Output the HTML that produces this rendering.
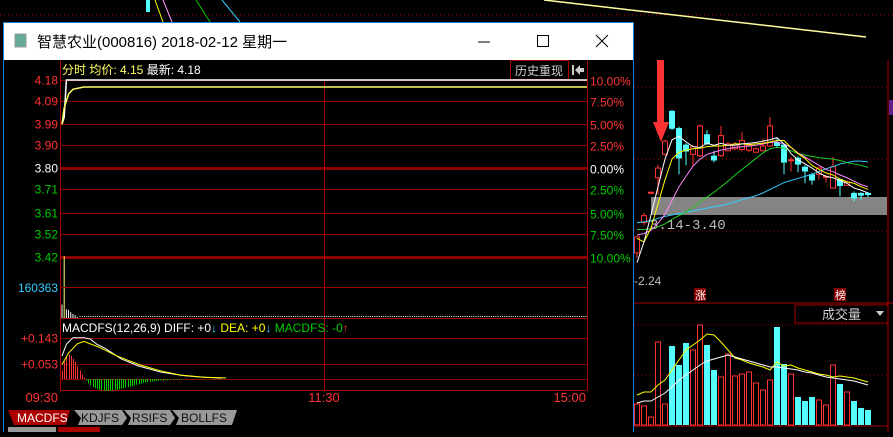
<!DOCTYPE html>
<html><head><meta charset="utf-8"><style>
html,body{margin:0;padding:0;background:#000;}
body{width:893px;height:432px;overflow:hidden;position:relative;font-family:"Liberation Sans","Noto Sans CJK SC",sans-serif;}
svg text{font-family:"Liberation Sans","Noto Sans CJK SC",sans-serif;}
svg text.mono{font-family:"Liberation Mono",monospace;}
</style></head><body>
<svg id="root" width="893" height="432" viewBox="0 0 893 432" xmlns="http://www.w3.org/2000/svg">
  <rect x="0" y="0" width="893" height="432" fill="#000"/>
  <line x1="0" y1="15" x2="893" y2="15" stroke="#a00" stroke-dasharray="1,3"/>
  <line x1="544" y1="0" x2="866" y2="37" stroke="#ffffa0" stroke-width="1.5"/>
  <g>
    <rect x="146" y="0" width="4" height="12" fill="#5ff" />
    <line x1="155" y1="0" x2="163" y2="22" stroke="#ff0"/>
    <line x1="163" y1="0" x2="172" y2="22" stroke="#f9f"/>
    <line x1="196" y1="0" x2="210" y2="22" stroke="#0c0"/>
    <line x1="222" y1="0" x2="240" y2="22" stroke="#3cf"/>
  </g>

  <g id="kpanel">
    <line x1="888" y1="60" x2="888" y2="432" stroke="#a00"/>
    <line x1="634" y1="87" x2="888" y2="87" stroke="#a00" stroke-dasharray="1,3"/>
    <line x1="634" y1="159" x2="888" y2="159" stroke="#a00" stroke-dasharray="1,3"/>
    <line x1="634" y1="231" x2="888" y2="231" stroke="#a00" stroke-dasharray="1,3"/>
    <rect x="889" y="100" width="4" height="15" fill="#60208a"/>
    <rect x="651" y="197" width="236" height="18" fill="#848484"/>
    <text class="mono" x="650" y="229" fill="#bbb" font-size="14">3.14-3.40</text>
    <text x="634" y="285" fill="#bbb" font-size="12">-2.24</text>
    <rect x="694" y="288" width="12" height="13" fill="#800"/>
    <text x="695" y="299" fill="#fff" font-size="11">涨</text>
    <rect x="834" y="288" width="12" height="13" fill="#800"/>
    <text x="835" y="299" fill="#fff" font-size="11">榜</text>
    <line x1="634" y1="303" x2="893" y2="303" stroke="#a00"/>
    <rect x="795" y="305" width="93" height="18" fill="none" stroke="#a00"/>
    <text x="822" y="319" fill="#ccc" font-size="13">成交量</text>
    <polygon points="876,311 884,311 880,316" fill="#ccc"/>
    <line x1="634" y1="325" x2="888" y2="325" stroke="#a00" stroke-dasharray="1,3"/>
    <line x1="634" y1="375" x2="888" y2="375" stroke="#a00" stroke-dasharray="1,3"/>
    <line x1="634" y1="426" x2="888" y2="426" stroke="#a00"/>
    <polygon points="657,60 664,60 664,122 669,122 661,142 653,122 657,122" fill="#f33"/>
    <g id="candles"></g>
    <g id="malines"></g>
    <g id="vols"></g>
  </g>

  <g>
    <rect x="3.5" y="22.5" width="630" height="420" fill="#000" stroke="#1a82d8"/>
    <rect x="4" y="23" width="629" height="37" fill="#fff"/>
    <rect x="15" y="34" width="11" height="13" fill="#6a9" stroke="#999"/>
    <text x="37" y="47" fill="#000" font-size="15">智慧农业(000816) 2018-02-12 星期一</text>
    <line x1="478" y1="42" x2="490" y2="42" stroke="#000"/>
    <rect x="537.5" y="35.5" width="11" height="11" fill="none" stroke="#000"/>
    <path d="M596 35 L608 47 M608 35 L596 47" stroke="#000"/>

    <g id="pgrid"></g>
    <line x1="60.5" y1="60" x2="60.5" y2="390" stroke="#a00"/>
    <line x1="587.5" y1="60" x2="587.5" y2="390" stroke="#a00"/>
    <line x1="324.5" y1="80" x2="324.5" y2="390" stroke="#a00"/>
    <line x1="60" y1="390.5" x2="587" y2="390.5" stroke="#a00"/>
    <line x1="60" y1="318.5" x2="587" y2="318.5" stroke="#a00"/>
    <text x="62" y="74" font-size="12"><tspan fill="#ff6">分时 均价: 4.15</tspan><tspan fill="#fff"> 最新: 4.18</tspan></text>
    <rect x="510.5" y="60.5" width="58" height="19" fill="none" stroke="#a00"/>
    <text x="515" y="75" fill="#ccc" font-size="12">历史重现</text>
    <polygon points="572,65 574,65 574,75 572,75" fill="#ccc"/>
    <polygon points="575,70 580,65 580,68 584,68 584,72 580,72 580,75" fill="#ccc"/>
    <g id="pricelines"></g>
    <g id="ivol"></g>
    <text x="58" y="292" fill="#3cf" font-size="12" text-anchor="end">160363</text>
    <line x1="60" y1="287.5" x2="587" y2="287.5" stroke="#900"/>
    <text x="62" y="332" fill="#fff" font-size="12">MACDFS(12,26,9) DIFF: +0<tspan fill="#3cf">↓</tspan><tspan fill="#ff0"> DEA: +0</tspan><tspan fill="#3cf">↓</tspan><tspan fill="#0c0"> MACDFS: -0</tspan><tspan fill="#f33">↑</tspan></text>
    <g id="macd"></g>
    <text x="58" y="402" fill="#f33" font-size="13" text-anchor="end">09:30</text>
    <text x="324" y="402" fill="#f33" font-size="13" text-anchor="middle">11:30</text>
    <text x="586" y="402" fill="#f33" font-size="13" text-anchor="end">15:00</text>
    <polygon points="8,410 70,410 66,425 14,425" fill="#a00"/>
    <text x="17" y="422" fill="#fff" font-size="12">MACDFS</text>
    <polygon points="74,410 122,410 127,418 122,425 78,425 81,418" fill="#999"/>
    <text x="81" y="422" fill="#111" font-size="12">KDJFS</text>
    <polygon points="124,410 170,410 175,418 170,425 128,425 131,418" fill="#999"/>
    <text x="132" y="422" fill="#111" font-size="12">RSIFS</text>
    <polygon points="172,410 237,410 232,425 176,425 179,418" fill="#999"/>
    <text x="181" y="422" fill="#111" font-size="12">BOLLFS</text>
    <rect x="8" y="427" width="48" height="6" fill="#999"/>
    <rect x="58" y="427" width="42" height="6" fill="#a00"/>
  </g>
</svg>
<script>
const priceTicks = [4.18, 4.09, 3.99, 3.90, 3.80, 3.71, 3.61, 3.52, 3.42];
const pctTicks = ["10.00%","7.50%","5.00%","2.50%","0.00%","2.50%","5.00%","7.50%","10.00%"];
const priceMinutes = [0, 1, 2, 240];
const priceValues = [3.99, 4.02, 4.18, 4.18];
const avgMinutes = [0, 1, 3, 5, 10, 240];
const avgValues = [3.99, 4.06, 4.12, 4.14, 4.15, 4.15];
const volMinutes = [0, 1, 2, 3, 4, 5, 6, 7];
const volValues = [70000, 320000, 45000, 42000, 30000, 20000, 14000, 6000];
const macdTicks = [0.143, 0.053];
const diffMinutes = [0, 2, 5, 10, 13, 16, 20, 27, 35, 45, 55, 63, 73];
const diffValues = [0.08, 0.12, 0.143, 0.143, 0.138, 0.12, 0.105, 0.07, 0.045, 0.024, 0.012, 0.007, 0.003];
const deaMinutes = [0, 3, 7, 10, 17, 25, 36, 45, 54, 65, 75];
const deaValues = [0.05, 0.09, 0.122, 0.13, 0.11, 0.08, 0.048, 0.028, 0.014, 0.006, 0.004];
const histValues = [0.03,0.06,0.08,0.085,0.08,0.07,0.06,0.045,0.03,0.015,0.005,-0.005,-0.015,-0.022,-0.028,-0.032,-0.035,-0.038,-0.04,-0.041,-0.042,-0.042,-0.041,-0.04,-0.039,-0.038,-0.036,-0.034,-0.032,-0.03,-0.028,-0.026,-0.024,-0.022,-0.02,-0.018,-0.016,-0.014,-0.012,-0.011,-0.01,-0.009,-0.008,-0.007,-0.006,-0.005,-0.005,-0.004,-0.004,-0.003,-0.003,-0.003,-0.002,-0.002,-0.002,-0.002,-0.001,-0.001,-0.001,-0.001,-0.001,-0.001,-0.001,-0.001,-0.001,-0.001,-0.001,-0.001,-0.001,-0.001,-0.001,-0.001,-0.001,-0.001,-0.001];

const kOpen  = [2.59,3.03,3.46,3.68,4.02,4.65,4.40,4.16,4.02,4.00,4.31,4.00,4.00,4.07,4.10,4.09,4.08,4.05,4.07,4.14,4.19,4.16,3.93,3.97,3.84,3.73,3.73,3.70,3.53,3.66,3.57,3.46,3.46,3.46];
const kClose = [2.82,3.13,3.47,3.82,4.21,4.39,3.96,4.06,4.13,4.43,4.17,3.93,4.29,4.17,4.17,4.22,4.15,4.10,4.14,4.43,4.14,3.90,3.94,3.87,3.77,3.64,3.82,3.70,3.84,3.56,3.62,3.38,3.42,3.43];
const kHigh  = [2.84,3.17,3.48,3.87,4.23,4.66,4.42,4.18,4.15,4.45,4.37,4.07,4.43,4.20,4.20,4.34,4.18,4.12,4.25,4.56,4.26,4.18,3.98,3.99,3.86,3.75,3.84,3.72,3.98,3.67,3.64,3.48,3.47,3.47];
const kLow   = [2.52,2.99,3.44,3.43,4.00,4.37,3.73,3.86,3.85,3.98,4.15,3.90,3.98,4.15,4.08,4.06,4.05,4.05,4.06,4.13,4.12,3.73,3.77,3.76,3.60,3.58,3.65,3.61,3.52,3.41,3.57,3.34,3.36,3.40];
const ma5   = [2.45,2.75,3.14,3.55,3.95,4.23,4.28,4.20,4.13,4.12,4.18,4.15,4.18,4.15,4.15,4.17,4.18,4.19,4.21,4.23,4.26,4.17,4.03,3.94,3.88,3.82,3.75,3.70,3.68,3.64,3.60,3.53,3.50,3.46];
const ma10  = [2.80,2.75,2.95,3.30,3.65,3.95,4.05,4.08,4.10,4.11,4.13,4.14,4.14,4.15,4.17,4.17,4.16,4.17,4.18,4.20,4.22,4.22,4.12,4.03,3.96,3.86,3.80,3.75,3.72,3.66,3.62,3.60,3.55,3.51];
const ma20  = [2.85,2.87,2.92,3.02,3.15,3.35,3.55,3.70,3.85,3.95,4.02,4.05,4.08,4.10,4.12,4.13,4.14,4.15,4.17,4.19,4.20,4.17,4.12,4.04,3.98,3.92,3.86,3.80,3.77,3.72,3.68,3.63,3.58,3.55];
const ma60  = [2.93,2.93,2.94,2.97,3.01,3.08,3.13,3.18,3.25,3.33,3.40,3.47,3.55,3.63,3.72,3.80,3.88,3.96,4.04,4.10,4.12,4.11,4.07,4.03,4.01,3.99,3.97,3.96,3.95,3.93,3.90,3.88,3.86,3.83];
const ma120 = [3.03,3.04,3.06,3.09,3.12,3.14,3.16,3.18,3.20,3.22,3.24,3.26,3.28,3.30,3.33,3.36,3.39,3.42,3.46,3.51,3.56,3.61,3.64,3.67,3.70,3.73,3.77,3.81,3.84,3.88,3.90,3.92,3.92,3.91];
const kVolume = [21,19,8,83,21,79,60,82,75,100,80,55,48,71,49,51,53,42,35,45,98,61,51,28,24,28,25,20,60,41,33,24,17,15];
const volMa5  = [25,28,28,35,40,50,60,70,75,80,86,85,78,70,62,60,57,55,53,50,58,54,55,52,50,48,46,45,43,44,43,42,40,38];
const volMa10 = [22,24,24,28,32,38,45,50,55,60,64,66,68,70,68,66,64,62,60,58,58,57,56,55,53,52,50,48,47,46,45,44,42,40];

const NS = "http://www.w3.org/2000/svg";
function mk(parent, tag, attrs){const e=document.createElementNS(NS,tag);for(const k in attrs)e.setAttribute(k,attrs[k]);parent.appendChild(e);return e;}

const xMin = m => 62 + m * (525 / 240);
const yPrice = p => 80 + (4.18 - p) * (177 / 0.76);
const yVol = v => 318 - v * (31 / 160363);
const yMacd = v => 379 - v * (26 / 0.09);

const pgrid = document.getElementById('pgrid');
priceTicks.forEach((p, i) => {
  const y = Math.round(yPrice(p)) + 0.5;
  const thick = (i === 4 || i === 8);
  const l = mk(pgrid, 'line', {x1: 60, y1: y, x2: 587, y2: y, stroke: '#8a0000', 'stroke-width': thick ? 3 : 1});
  
  
  const col = i < 4 ? '#f33' : (i === 4 ? '#fff' : '#0c0');
  const t = mk(pgrid, 'text', {x: 58, y: y + 4, fill: col, 'font-size': 12, 'text-anchor': 'end'});
  t.textContent = p.toFixed(2);
  
  
  const t2 = mk(pgrid, 'text', {x: 590, y: y + 5, fill: col, 'font-size': 12});
  t2.textContent = pctTicks[i];
  
  
});
macdTicks.forEach(v => {
  const y = Math.round(yMacd(v)) + 0.5;
  const l = mk(pgrid, 'line', {x1: 60, y1: y, x2: 587, y2: y, stroke: '#8a0000'});
  
  
  const t = mk(pgrid, 'text', {x: 58, y: y + 4, fill: '#f33', 'font-size': 12, 'text-anchor': 'end'});
  t.textContent = '+' + v.toFixed(3);
  
  
});
const zl = mk(pgrid, 'line', {x1: 60, y1: 379.5, x2: 587, y2: 379.5, stroke: '#8a0000'});



const pl = document.getElementById('pricelines');
const priceLine = mk(pl, 'polyline', {fill: 'none', stroke: '#fff', 'stroke-width': 1.5, points: priceMinutes.map((m, i) => xMin(m) + ',' + yPrice(priceValues[i])).join(' ')});


const avgLine = mk(pl, 'polyline', {fill: 'none', stroke: '#ff6', 'stroke-width': 1.5, points: avgMinutes.map((m, i) => xMin(m) + ',' + yPrice(avgValues[i])).join(' ')});



const iv = document.getElementById('ivol');
volMinutes.forEach((m, i) => {
  const x = xMin(m);
  const b = mk(iv, 'line', {x1: x, y1: 318, x2: x, y2: yVol(volValues[i]), stroke: i === 1 ? '#ff6' : '#fff', 'stroke-width': 1});
  
  
});
const dots = mk(iv, 'line', {x1: xMin(8), y1: 316.5, x2: 587, y2: 316.5, stroke: '#fff', 'stroke-dasharray': '1,1.2'});



const mc = document.getElementById('macd');
histValues.forEach((v, i) => {
  const x = Math.round(xMin(i)) + 0.5;
  const b = mk(mc, 'line', {x1: x, y1: 379, x2: x, y2: yMacd(v), stroke: v >= 0 ? '#f33' : '#0c0'});
  
  
});
const diff = mk(mc, 'polyline', {fill: 'none', stroke: '#fff', points: diffMinutes.map((m, i) => xMin(m) + ',' + yMacd(diffValues[i])).join(' ')});


const dea = mk(mc, 'polyline', {fill: 'none', stroke: '#ff0', points: deaMinutes.map((m, i) => xMin(m) + ',' + yMacd(deaValues[i])).join(' ')});



const xK = i => 637 + i * 7;
const yK = p => 215 - (p - 3.14) * 69;
const yKV = v => 425 - v;

const cg = document.getElementById('candles');
kOpen.forEach((o, i) => {
  const c = kClose[i], up = c >= o, col = up ? '#f33' : '#5ff';
  const x = xK(i);
  const w = mk(cg, 'line', {x1: x, y1: yK(kHigh[i]), x2: x, y2: yK(kLow[i]), stroke: col});
  
  
  const top = yK(Math.max(o, c)), h = Math.max(1, Math.abs(yK(o) - yK(c)));
  const r = up ? mk(cg, 'rect', {x: x - 2.5, y: top, width: 5, height: h, fill: '#000', stroke: col}) : mk(cg, 'rect', {x: x - 3, y: top, width: 6, height: h, fill: col});
  
  
});
const ml = document.getElementById('malines');
[[ma120, '#3cf', 'ma120-line'], [ma60, '#2c2', 'ma60-line'], [ma20, '#f8f', 'ma20-line'], [ma10, '#ff0', 'ma10-line'], [ma5, '#fff', 'ma5-line']].forEach(([arr, col, name]) => {
  const p = mk(ml, 'polyline', {fill: 'none', stroke: col, points: arr.map((v, i) => xK(i) + ',' + yK(v)).join(' ')});
  
  
});
const vg = document.getElementById('vols');
kVolume.forEach((v, i) => {
  const up = kClose[i] >= kOpen[i];
  const x = xK(i);
  const r = up ? mk(vg, 'rect', {x: x - 2.5, y: yKV(v), width: 5, height: v, fill: '#000', stroke: '#f33'}) : mk(vg, 'rect', {x: x - 3, y: yKV(v), width: 6, height: v, fill: '#5ff'});
  
  
});
const vm = mk(vg, 'polyline', {fill: 'none', stroke: '#ff0', points: kVolume.map((v, i) => xK(i) + ',' + yKV(volMa5[i] + 5)).join(' ')});


const vm2 = mk(vg, 'polyline', {fill: 'none', stroke: '#fff', points: kVolume.map((v, i) => xK(i) + ',' + yKV(volMa10[i])).join(' ')});


</script>
</body></html>
